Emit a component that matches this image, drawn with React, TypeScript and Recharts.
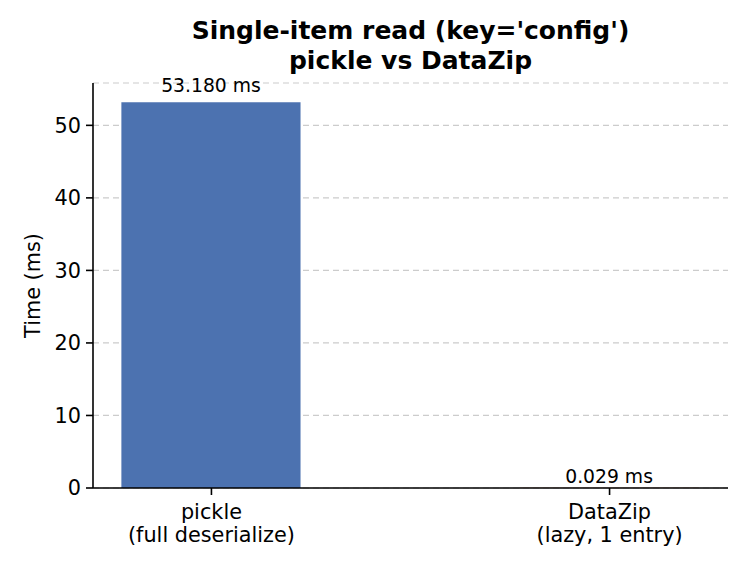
import { BarChart, Bar, XAxis, YAxis, CartesianGrid, LabelList, Cell } from "recharts";

const categories = ["pickle\n(full deserialize)", "DataZip\n(lazy, 1 entry)"];
const timesMs = [53.18, 0.029];
const barColors = ["#4c72b0", "#dd8452"];
const yTicks = [0, 10, 20, 30, 40, 50];
const titleLines = ["Single-item read (key='config')", "pickle vs DataZip"];

const W = 750;
const H = 570;
const xAxisHeight = 30;
const margin = { top: 83, right: 22, bottom: 82 - xAxisHeight, left: 33 };
const yAxisWidth = 60;
const plotWidth = W - margin.left - margin.right - yAxisWidth;
const xDomain: [number, number] = [-0.2975, 1.2975];
const barWidthUnits = 0.45;
const font = "DejaVu Sans, sans-serif";

const data = categories.map((name, i) => ({ x: i, name, value: timesMs[i] }));

const XTick = ({ x, y, payload }: any) => {
  const lines = categories[payload.value].split("\n");
  return (
    <text x={x} y={y} textAnchor="middle" fontFamily={font} fontSize={20.8} fill="#000">
      {lines.map((l, i) => (
        <tspan key={i} x={x} dy={i === 0 ? 22 : 23}>
          {l}
        </tspan>
      ))}
    </text>
  );
};

// label sits a little above the bar top (padding grows slightly with bar height)
const BarValue = (props: any) => {
  const { x, y, width, height, value } = props;
  return (
    <text
      x={x + width / 2}
      y={y - height * 0.015 - 4.5}
      textAnchor="middle"
      fontFamily={font}
      fontSize={18.75}
      fill="#000"
    >
      {Number(value).toFixed(3)} ms
    </text>
  );
};

export default function App() {
  const axesCenterX = margin.left + yAxisWidth + plotWidth / 2;
  return (
    <div style={{ position: "absolute", left: 0, top: 0, width: W, height: H, background: "#fff" }}>
      <BarChart width={W} height={H} data={data} margin={margin}>
        <text x={axesCenterX} textAnchor="middle" fontFamily={font} fontWeight="bold" fontSize={25} fill="#000">
          <tspan x={axesCenterX} y={39}>{titleLines[0]}</tspan>
          <tspan x={axesCenterX} y={69}>{titleLines[1]}</tspan>
        </text>
        <CartesianGrid vertical={false} stroke="#cccccc" strokeDasharray="6 4" strokeWidth={1.2} />
        <XAxis
          dataKey="x"
          type="number"
          domain={xDomain}
          ticks={[0, 1]}
          allowDataOverflow
          interval={0}
          height={xAxisHeight}
          tick={<XTick />}
          tickSize={7}
          axisLine={{ stroke: "#000", strokeWidth: 1.6 }}
          tickLine={{ stroke: "#000", strokeWidth: 1.6 }}
        />
        <YAxis
          width={yAxisWidth}
          domain={[0, timesMs[0] * 1.05]}
          ticks={yTicks}
          allowDataOverflow
          tickSize={7}
          tickMargin={5}
          tick={{ fontFamily: font, fontSize: 20.8, fill: "#000" }}
          axisLine={{ stroke: "#000", strokeWidth: 1.6 }}
          tickLine={{ stroke: "#000", strokeWidth: 1.6 }}
          label={{
            content: () => (
              <text
                x={33}
                y={285.5}
                transform="rotate(-90 33 285.5)"
                textAnchor="middle"
                dominantBaseline="central"
                fontFamily={font}
                fontSize={20.8}
                fill="#000"
              >
                Time (ms)
              </text>
            ),
          }}
        />
        <Bar
          dataKey="value"
          barSize={(barWidthUnits * plotWidth) / (xDomain[1] - xDomain[0])}
          isAnimationActive={false}
        >
          {data.map((d, i) => (
            <Cell key={d.name} fill={barColors[i]} />
          ))}
          <LabelList dataKey="value" content={<BarValue />} />
        </Bar>
      </BarChart>
    </div>
  );
}
